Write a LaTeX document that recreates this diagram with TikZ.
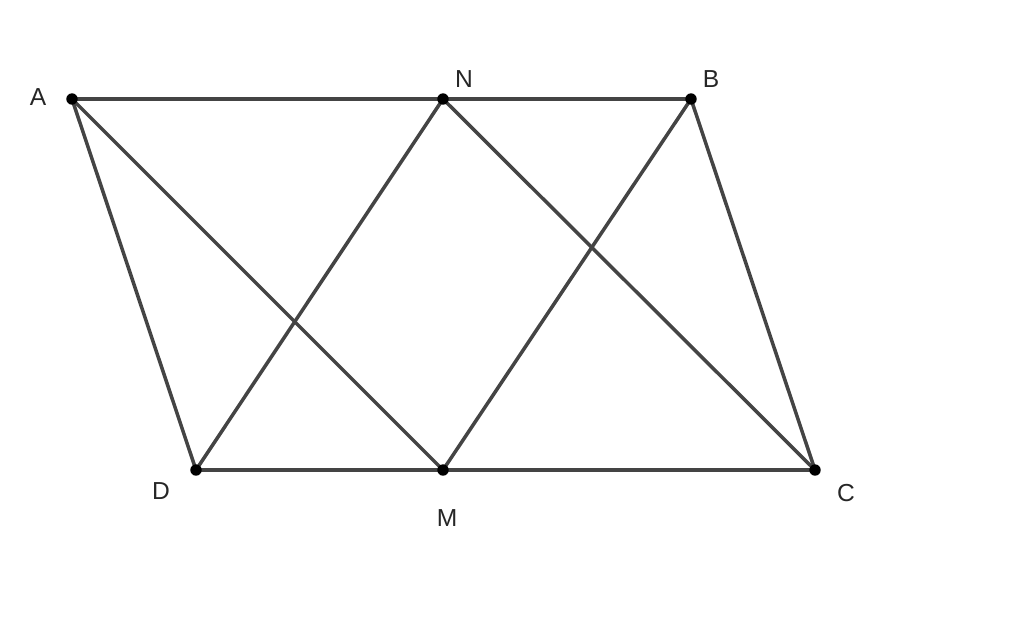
\documentclass[tikz,border=0pt]{standalone}
\usepackage{fontspec}
\setmainfont{Liberation Sans}
\definecolor{segcol}{HTML}{444444}
\tikzset{
 seg/.style={draw=segcol,line width=2pt},
 pt/.style={circle,fill=black,inner sep=0pt,minimum size=6.5pt},
 lbl/.style={font=\fontsize{14}{16}\selectfont,text=black!85}
}
\begin{document}
\begin{tikzpicture}[x=0.02cm,y=-0.02cm]
 \useasboundingbox (0,0) rectangle (1024,630);
 \coordinate (A) at (72,99);
 \coordinate (N) at (443,99);
 \coordinate (B) at (691,99);
 \coordinate (D) at (196,470);
 \coordinate (M) at (443,470);
 \coordinate (C) at (815,470);
 \draw[seg](A)--(B);
 \draw[seg](D)--(C);
 \draw[seg](A)--(D);
 \draw[seg](B)--(C);
 \draw[seg](A)--(M);
 \draw[seg](N)--(C);
 \draw[seg](N)--(D);
 \draw[seg](B)--(M);
 \foreach \p in {A,N,B,D,M,C} \node[pt] (d\p) at (\p) {};
 \node[lbl] (lA) at (38,97) {A};
 \node[lbl] (lN) at (464,79) {N};
 \node[lbl] (lB) at (711,79) {B};
 \node[lbl] (lD) at (161,491) {D};
 \node[lbl] (lM) at (447,518) {M};
 \node[lbl] (lC) at (846,493) {C};
\end{tikzpicture}
\end{document}
